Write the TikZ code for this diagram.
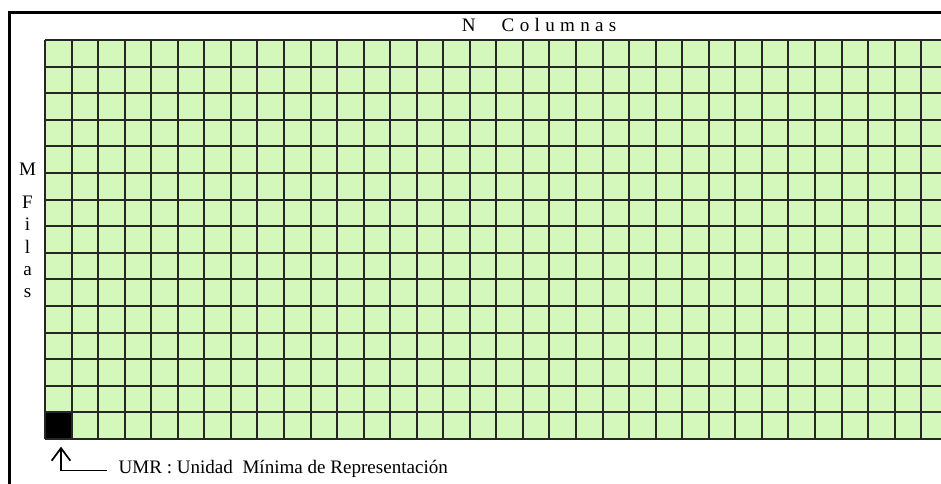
\documentclass[tikz,border=0pt]{standalone}
\usepackage{fontspec}
\setmainfont{Liberation Serif}
\usetikzlibrary{arrows.meta}
\definecolor{cellgreen}{RGB}{212,248,188}
\begin{document}
\begin{tikzpicture}[x=0.75pt,y=-0.75pt,
  gridline/.style={draw=black!85, line width=1.5pt},
  frameline/.style={draw=black, line width=2.25pt},
  lbl/.style={font=\fontsize{14.3}{17}\selectfont, inner sep=0pt, anchor=base},
  pointer/.style={line width=1.3pt, -{Straight Barb[length=9.4pt,width=14pt,line width=1.3pt]}}]
\useasboundingbox (0,0) rectangle (941,483);
\fill[white] (0,0) rectangle (941,483);
\begin{scope}
\clip (0,0) rectangle (941,483);
\fill[cellgreen] (45,40) rectangle (950,439);
\fill[black] (45,412) rectangle (72,439);
\foreach \i in {0,...,34} {
  \pgfmathsetmacro{\xx}{round(45+\i*26.55)}
  \draw[gridline] (\xx,40) -- (\xx,439);
}
\foreach \j in {0,...,15} {
  \pgfmathsetmacro{\yy}{round(40+\j*26.6)}
  \draw[gridline] (45,\yy) -- (950,\yy);
}
\draw[frameline] (9,495) -- (9,12) -- (950,12);
\end{scope}
\coordinate (tip) at (61,446.7);
\coordinate (corner) at (61,470.5);
\coordinate (tail) at (106.7,470.5);
\draw[pointer] (tail) -- (corner) -- (tip);
\node[lbl, anchor=base west] (umr) at (118.3,473.3) {UMR : Unidad\ \ Mínima de Representación};
\node[lbl, anchor=base west] (ncol) at (461.7,31.7) {N\hspace{19.5pt}{\spaceskip=4.0pt C o l u m n a s}};
\foreach \ch/\yy/\nm in {M/175/lm,F/208/lf,i/230/li,l/253/ll,a/275/la,s/297/ls}
  \node[lbl] (\nm) at (27.5,\yy) {\ch};
\end{tikzpicture}
\end{document}
